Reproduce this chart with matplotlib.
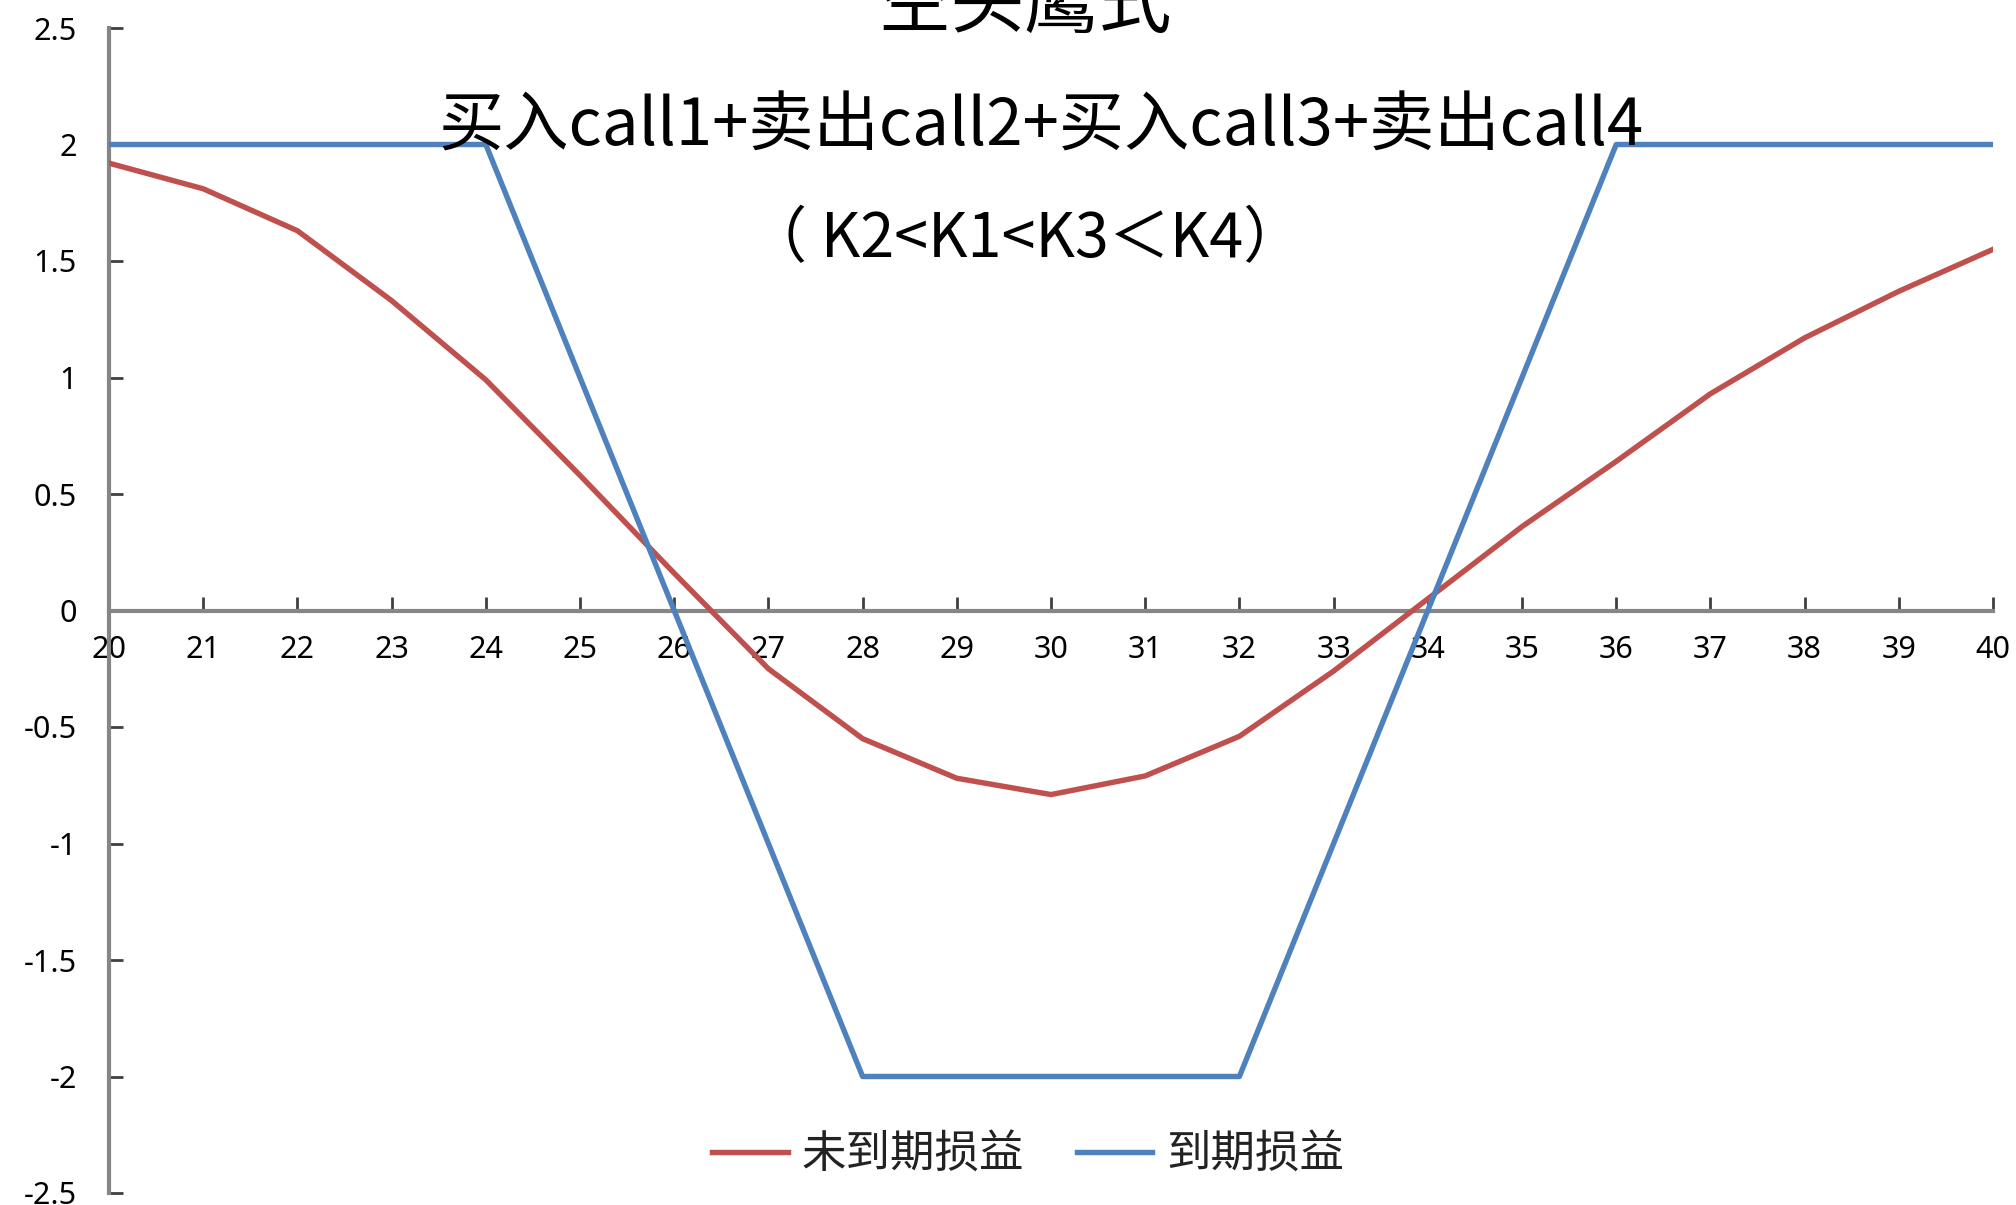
import numpy as np
import matplotlib
matplotlib.use('Agg')
import matplotlib.pyplot as plt

plt.rcParams['font.family'] = ['Noto Sans CJK SC', 'DejaVu Sans']

## data
prices = [20, 21, 22, 23, 24, 25, 26, 27, 28, 29, 30,
          31, 32, 33, 34, 35, 36, 37, 38, 39, 40]
# not yet expired P/L (red)
pl_before = [1.92, 1.81, 1.63, 1.33, 0.99, 0.58, 0.16, -0.25, -0.55, -0.72, -0.79,
             -0.71, -0.54, -0.26, 0.05, 0.36, 0.64, 0.93, 1.17, 1.37, 1.55]
# expiry P/L (blue)
pl_expiry = [2, 2, 2, 2, 2, 1, 0, -1, -2, -2, -2,
             -2, -2, -1, 0, 1, 2, 2, 2, 2, 2]
series_names = ['未到期损益', '到期损益']
y_ticks = [2.5, 2, 1.5, 1, 0.5, 0, -0.5, -1, -1.5, -2, -2.5]
y_tick_labels = ['2.5', '2', '1.5', '1', '0.5', '0', '-0.5', '-1', '-1.5', '-2', '-2.5']
title1 = '空头鹰式'
title2 = '买入call1+卖出call2+买入call3+卖出call4'
title3 = '（ K2<K1<K3＜K4）'

W, H = 2016, 1205
fig = plt.figure(figsize=(W/100, H/100), dpi=100)
ax = fig.add_axes([109/W, 1-1193/H, (1993-109)/W, (1193-28)/H])

ax.plot(prices, pl_before, color='#C0504D', lw=3.9, label=series_names[0], zorder=3)
ax.plot(prices, pl_expiry, color='#4F81BD', lw=3.9, label=series_names[1], zorder=3)

ax.set_xlim(20, 40)
ax.set_ylim(-2.5, 2.5)
ax.set_xticks(prices)
ax.set_xticklabels([str(p) for p in prices])
ax.set_yticks(y_ticks)
ax.set_yticklabels(y_tick_labels)

for s in ['top', 'right']:
    ax.spines[s].set_visible(False)
ax.spines['bottom'].set_position(('data', 0))
for s in ['left', 'bottom']:
    ax.spines[s].set_color('#868686')
    ax.spines[s].set_linewidth(3)
ax.tick_params(direction='in', length=10, width=2, color='#404040',
               labelsize=22, labelcolor='#000000')
ax.tick_params(axis='y', pad=23)
ax.tick_params(axis='x', pad=18)
for lab in ax.get_xticklabels() + ax.get_yticklabels():
    lab.set_family(['Noto Sans', 'DejaVu Sans'])

fig.text(1025/W, 1-6/H, title1, ha='center', va='center', fontsize=53)
fig.text(1041/W, 1-127/H, title2, ha='center', va='center', fontsize=47)
fig.text(1025/W, 1-240/H, title3, ha='center', va='center', fontsize=44)

fig.legend(loc='center', bbox_to_anchor=(1028/W, 1-1155/H), ncol=2, frameon=False,
           fontsize=32, handlelength=1.7, handletextpad=0.3, columnspacing=1.2,
           labelcolor='#222222')

fig.savefig('out.png', dpi=100, facecolor='white')
